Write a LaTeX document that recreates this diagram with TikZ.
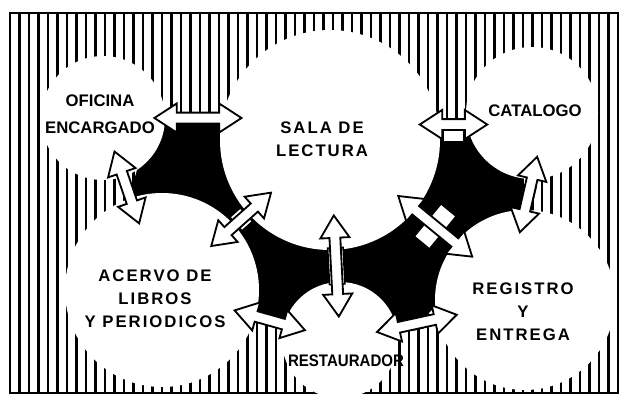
\documentclass[tikz,border=0pt]{standalone}
\usepackage{fontspec}
\newfontfamily\lblfont[LetterSpace=12]{Liberation Sans}
\newfontfamily\lblfontplain{Liberation Sans}
\newfontfamily\lblfontnarrow[FakeStretch=0.9]{Liberation Sans}
\usetikzlibrary{shapes.arrows, positioning}
\tikzset{
  room/.style={circle, fill=white, inner sep=0pt},
  lbl/.style={align=center, inner sep=0pt, font=\lblfont\bfseries\fontsize{11.9}{16.5}\selectfont},
  lblplain/.style={align=center, inner sep=0pt, font=\lblfontplain\bfseries\fontsize{11.9}{19}\selectfont},
  lblnarrow/.style={align=center, inner sep=0pt, font=\lblfontnarrow\bfseries\fontsize{11.9}{16.5}\selectfont},
  hatch/.style={line width=1.6pt},
  frame/.style={line width=1.2pt},
  link/.style={double arrow, draw=black, fill=white, line width=1.3pt, inner xsep=0pt, inner ysep=3.2pt,
    double arrow head extend=6.5pt, double arrow tip angle=66, sloped},
  door/.style={rectangle, draw=black, fill=white, line width=1.1pt, inner sep=0pt, sloped}
}

\begin{document}
\begin{tikzpicture}[x=0.25mm, y=-0.25mm]
    \useasboundingbox (0,0) rectangle (625,400);
    \fill[white] (0,0) rectangle (625,400);

    % Rayado del fondo
    \foreach \x in {10,19.5,...,618} {
        \draw[hatch] (\x,13) -- (\x,393);
    }
    \draw[frame] (10,13) rectangle (618,393);

    % Zona negra entre las salas
    \fill[black] (150,123) -- (230,123) -- (420,133) -- (480,133) -- (522,165) -- (522,218)
        -- (420,322) -- (250,322) -- (130,195) -- cycle;

    % Salas
    \node[room, minimum size=31mm] (ofi) at (103,118) {};
    \node[room, minimum size=55mm] (sala) at (330,140) {};
    \node[room, minimum size=33mm] (cat) at (532,113) {};
    \node[room, minimum size=48.5mm] (acervo) at (162,290) {};
    \node[room, minimum size=29mm] (rest) at (340,340) {};
    \node[room, minimum size=45mm] (reg) at (525,300) {};

    % Textos de las salas
    \node[lblplain] (tofi) at (100,114) {OFICINA\\ENCARGADO};
    \node[lbl] (tsala) at (322,139) {SALA DE\\LECTURA};
    \node[lblplain] (tcat) at (535,111) {CATALOGO};
    \node[lbl] (tacervo) at (155,299) {ACERVO DE\\LIBROS\\Y PERIODICOS};
    \node[lblnarrow] (trest) at (346,361) {RESTAURADOR};
    \node[lbl] (treg) at (523,312) {REGISTRO\\Y\\ENTREGA};

    % --- CONEXIONES ---
    \path (ofi.east) -- node[door, pos=.4, minimum width=8pt, minimum height=8pt] {}
        node[door, pos=.75, minimum width=7pt, minimum height=8pt] {}
        node[link, pos=.6, minimum height=62pt] {} (sala.west |- ofi.east);
    \path (sala.east |- cat.190) -- node[door, below=1pt, minimum width=14pt, minimum height=11pt] {}
        node[link, minimum height=48pt] {} (cat.190);
    \path (cat.south) -- node[door, minimum width=12pt, minimum height=8pt] {}
        node[link, minimum height=55pt] {} (reg.north);
    \path (ofi) -- node[link, minimum height=54pt] {} (acervo);
    \path (sala) -- node[door, minimum width=10pt, minimum height=13pt] {}
        node[link, minimum height=57pt] {} (acervo);
    \path (sala) -- node[door, minimum width=26pt, minimum height=11pt] {}
        node[link, minimum height=72pt] {} (rest);
    \path (sala) -- node[door, minimum width=14pt, minimum height=30pt] {}
        node[link, minimum height=68pt] {} (reg);
    \path (reg) -- node[door, minimum width=7pt, minimum height=8pt] {}
        node[link, minimum height=58pt] {} (rest);
    \path (acervo) -- node[link, minimum height=52pt] {} (rest);

\end{tikzpicture}
\end{document}
